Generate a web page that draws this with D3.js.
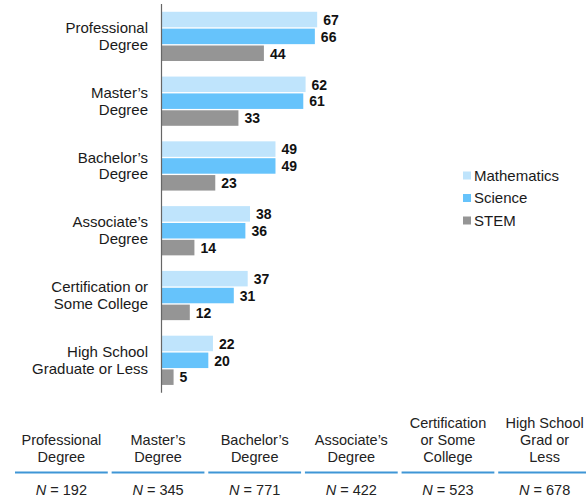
<!DOCTYPE html>
<html>
<head>
<meta charset="utf-8">
<script src="https://cdn.jsdelivr.net/npm/d3@7"></script>
<style>
body { margin: 0; background: #fff; }
svg text { font-family: "Liberation Sans", Arial, Helvetica, sans-serif; }
</style>
</head>
<body>
<script>
//chart data
var categories = [["Professional", "Degree"], ["Master\u2019s", "Degree"], ["Bachelor\u2019s", "Degree"],
    ["Associate\u2019s", "Degree"], ["Certification or", "Some College"], ["High School", "Graduate or Less"]];
var seriesNames = ["Mathematics", "Science", "STEM"];
var mathValues = [67, 62, 49, 38, 37, 22];
var scienceValues = [66, 61, 49, 36, 31, 20];
var stemValues = [44, 33, 23, 14, 12, 5];
var tableHeaders = [["Professional", "Degree"], ["Master\u2019s", "Degree"], ["Bachelor\u2019s", "Degree"],
    ["Associate\u2019s", "Degree"], ["Certification", "or Some", "College"], ["High School", "Grad or", "Less"]];
var nValues = [192, 345, 771, 422, 523, 678];

var colors = ["#bfe4fc", "#66c3fb", "#959595"];

var width = 586, height = 501;

var svg = d3.select("body").append("svg")
    .attr("width", width)
    .attr("height", height);

//scales
var keys = categories.map(function(c){ return c.join(" "); });
var y = d3.scaleBand()
    .domain(keys)
    .range([4, 392.7])
    .paddingInner(0.24)
    .paddingOuter(0.12);

var ySub = d3.scaleBand()
    .domain(seriesNames)
    .range([0, y.bandwidth()])
    .paddingInner(0.08);

var x = d3.scaleLinear()
    .domain([0, 100])
    .range([162, 162 + 231.6]);

var color = d3.scaleOrdinal().domain(seriesNames).range(colors);

//bar data rows
var rows = keys.map(function(k, i){
    return {key: k, values: [mathValues[i], scienceValues[i], stemValues[i]]};
});

var groups = svg.selectAll(".group")
    .data(rows)
    .enter()
    .append("g")
    .attr("class", "group")
    .attr("transform", function(d){ return "translate(0," + y(d.key) + ")"; });

groups.selectAll("rect")
    .data(function(d){ return d.values.map(function(v, j){ return {name: seriesNames[j], value: v}; }); })
    .enter()
    .append("rect")
    .attr("x", x(0))
    .attr("y", function(d){ return ySub(d.name); })
    .attr("width", function(d){ return x(d.value) - x(0); })
    .attr("height", ySub.bandwidth())
    .attr("fill", function(d){ return color(d.name); });

groups.selectAll(".val")
    .data(function(d){ return d.values.map(function(v, j){ return {name: seriesNames[j], value: v}; }); })
    .enter()
    .append("text")
    .attr("class", "val")
    .attr("x", function(d){ return x(d.value) + 6; })
    .attr("y", function(d){ return ySub(d.name) + ySub.bandwidth() / 2; })
    .attr("dy", "0.38em")
    .style("font-size", "14px")
    .style("font-weight", "bold")
    .style("fill", "#111")
    .text(function(d){ return d.value; });

//category labels
var labels = svg.selectAll(".cat")
    .data(categories)
    .enter()
    .append("text")
    .attr("class", "cat")
    .attr("text-anchor", "end")
    .style("font-size", "15px")
    .style("fill", "#1a1a1a")
    .attr("transform", function(d, i){ return "translate(148," + (y(keys[i]) + y.bandwidth() / 2) + ")"; });

labels.selectAll("tspan")
    .data(function(d){ return d; })
    .enter()
    .append("tspan")
    .attr("x", 0)
    .attr("y", function(d, i, n){ return (i - (n.length - 1) / 2) * 16.7 + 5; })
    .text(function(d){ return d; });

//axis line
svg.append("line")
    .attr("x1", x(0) - 0.5).attr("x2", x(0) - 0.5)
    .attr("y1", y.range()[0]).attr("y2", y.range()[1])
    .style("stroke", "#666")
    .style("stroke-width", 1.2);

//legend
var legend = svg.selectAll(".legend")
    .data(seriesNames)
    .enter()
    .append("g")
    .attr("class", "legend")
    .attr("transform", function(d, i){ return "translate(463," + (175.5 + i * 22.5) + ")"; });

legend.append("rect")
    .attr("x", 0).attr("y", -4)
    .attr("width", 8).attr("height", 8)
    .attr("fill", function(d){ return color(d); });

legend.append("text")
    .attr("x", 11)
    .attr("dy", "0.36em")
    .style("font-size", "15px")
    .style("fill", "#1a1a1a")
    .text(function(d){ return d; });

//bottom table
var col = d3.scaleBand()
    .domain(d3.range(tableHeaders.length))
    .range([15, 591])
    .paddingInner(0.04);

var cols = svg.selectAll(".col")
    .data(tableHeaders)
    .enter()
    .append("g")
    .attr("class", "col")
    .attr("transform", function(d, i){ return "translate(" + col(i) + ",0)"; });

cols.append("text")
    .attr("text-anchor", "middle")
    .style("font-size", "14.5px")
    .style("fill", "#222")
    .selectAll("tspan")
    .data(function(d){ return d; })
    .enter()
    .append("tspan")
    .attr("x", col.bandwidth() / 2)
    .attr("y", function(d, i, n){ return 461.5 - (n.length - 1 - i) * 17; })
    .text(function(d){ return d; });

cols.append("line")
    .attr("x1", 0).attr("x2", col.bandwidth())
    .attr("y1", 472.5).attr("y2", 472.5)
    .style("stroke", "#3f96d6")
    .style("stroke-width", 2);

var nText = cols.append("text")
    .attr("x", col.bandwidth() / 2)
    .attr("y", 494.5)
    .attr("text-anchor", "middle")
    .style("font-size", "14.5px")
    .style("fill", "#222");

nText.append("tspan").style("font-style", "italic").text("N");
nText.append("tspan").text(function(d, i){ return " = " + nValues[i]; });
</script>
</body>
</html>
